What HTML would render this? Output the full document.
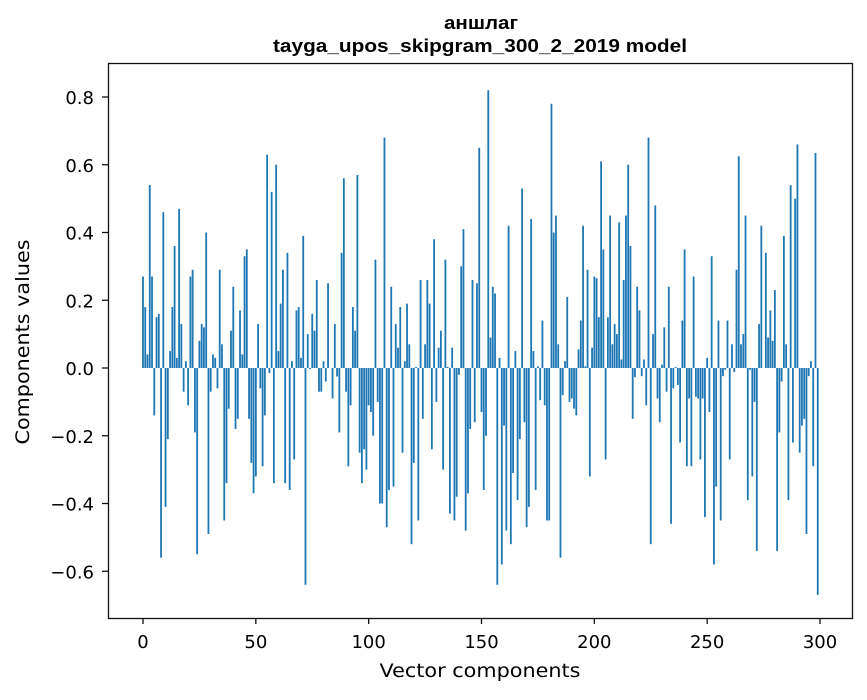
<!DOCTYPE html>
<html><head><meta charset="utf-8"><style>
body{margin:0;background:#fff;font-family:"DejaVu Sans","Liberation Sans",sans-serif;}
svg text{font-family:"DejaVu Sans","Liberation Sans",sans-serif;fill:#000;}
svg text.ttl{font-family:"Liberation Sans","DejaVu Sans",sans-serif;}
</style></head><body>
<svg id="chart" width="867" height="696" xmlns="http://www.w3.org/2000/svg">
<rect width="867" height="696" fill="#fff"/>
<text class="ttl" x="481" y="29" font-size="18" font-weight="bold" text-anchor="middle" textLength="74" lengthAdjust="spacingAndGlyphs">аншлаг</text>
<text class="ttl" x="480" y="52" font-size="18" font-weight="bold" text-anchor="middle" textLength="414" lengthAdjust="spacingAndGlyphs">tayga_upos_skipgram_300_2_2019 model</text>
<g id="bars"></g>
<g id="axes"></g>
<rect x="108.5" y="63.5" width="744" height="555" fill="none" stroke="#111" stroke-width="1.3"/>
<text x="480" y="677" font-size="19" text-anchor="middle" textLength="201" lengthAdjust="spacingAndGlyphs">Vector components</text>
<text x="0" y="0" font-size="19" text-anchor="middle" textLength="205" lengthAdjust="spacingAndGlyphs" transform="translate(29,342) rotate(-90)">Components values</text>
</svg>
<script>
const values = [
0.27,0.18,0.04,0.54,0.27,-0.14,0.15,0.16,-0.56,0.46,-0.41,-0.21,0.05,0.18,0.36,0.03,0.47,0.13,-0.07,0.02,
-0.11,0.27,0.29,-0.19,-0.55,0.08,0.13,0.12,0.40,-0.49,-0.07,0.04,0.03,-0.06,0.29,0.07,-0.45,-0.34,-0.12,0.11,
0.24,-0.18,-0.15,0.17,0.04,0.33,0.35,-0.15,-0.28,-0.37,-0.32,0.13,-0.06,-0.29,-0.14,0.63,-0.015,0.52,-0.34,0.60,
0.05,0.19,0.29,-0.34,0.34,-0.36,0.02,-0.27,0.17,0.18,0.03,0.39,-0.64,0.10,-0.003,0.16,0.11,0.26,-0.07,-0.07,
0.02,-0.04,0.25,0.0,-0.09,0.13,-0.025,-0.19,0.34,0.56,-0.07,-0.29,-0.11,0.18,0.11,0.57,-0.25,-0.34,-0.24,-0.30,
-0.11,-0.13,-0.20,0.32,-0.10,-0.40,-0.40,0.68,-0.47,-0.36,0.24,-0.35,0.13,0.06,0.18,-0.25,0.02,0.19,0.07,-0.52,
-0.28,0.003,-0.45,0.26,-0.15,0.07,0.26,0.19,-0.24,0.38,-0.10,0.06,0.11,-0.30,0.32,0.003,-0.43,0.06,-0.45,-0.38,
-0.02,0.30,0.41,-0.48,-0.37,-0.18,0.26,-0.16,0.25,0.65,-0.13,-0.36,-0.20,0.82,0.09,0.24,0.22,-0.64,0.03,-0.58,
-0.17,-0.48,0.42,-0.52,-0.31,0.05,-0.39,-0.21,0.53,-0.16,-0.47,-0.41,0.44,0.05,-0.36,0.005,-0.095,0.14,-0.11,-0.45,
-0.45,0.78,0.40,0.45,0.07,-0.56,-0.08,0.02,0.21,-0.10,-0.09,-0.12,-0.14,0.055,0.14,0.42,0.005,0.29,-0.32,0.06,
0.27,0.265,0.15,0.61,0.35,-0.27,0.15,0.45,0.07,0.13,0.10,0.43,0.025,0.26,0.45,0.60,0.36,-0.15,-0.027,0.24,
0.17,-0.024,0.025,-0.11,0.68,-0.52,0.10,0.48,-0.09,-0.16,0.01,0.12,-0.07,0.24,-0.46,-0.06,0.003,-0.05,-0.22,0.14,
0.35,-0.29,-0.09,-0.29,0.27,-0.085,-0.09,-0.27,-0.09,-0.44,0.03,-0.13,0.33,-0.58,-0.35,0.14,-0.45,-0.024,-0.005,0.14,
-0.27,0.07,-0.012,0.29,0.625,0.07,0.10,0.45,-0.39,-0.005,-0.32,-0.10,-0.54,0.13,0.42,0.0,0.34,0.09,0.17,0.08,
0.23,-0.54,-0.19,-0.04,0.39,0.07,-0.39,0.54,-0.22,0.50,0.66,-0.25,-0.17,-0.15,-0.49,-0.024,0.02,-0.29,0.635,-0.67
];
const xTicks = [0,50,100,150,200,250,300];
const yTicks = [-0.6,-0.4,-0.2,0.0,0.2,0.4,0.6,0.8];
const yTickLabels = ["−0.6","−0.4","−0.2","0.0","0.2","0.4","0.6","0.8"];

const NS = "http://www.w3.org/2000/svg";
const xScale = v => 143 + v * (820 - 143) / 300;
const yScale = v => 368 - v * (368 - 97) / 0.8;
const bw = 0.8 * (820 - 143) / 300;
const bars = document.getElementById('bars');
values.forEach((v, i) => {
  const r = document.createElementNS(NS, 'rect');
  const y0 = yScale(0), y1 = yScale(v);
  r.setAttribute('x', xScale(i) - bw / 2);
  r.setAttribute('y', Math.min(y0, y1));
  r.setAttribute('width', bw);
  r.setAttribute('height', Math.abs(y1 - y0));
  r.setAttribute('fill', '#1f77b4');
  
  
  bars.appendChild(r);
});
const axes = document.getElementById('axes');
xTicks.forEach(t => {
  const x = xScale(t);
  const l = document.createElementNS(NS, 'line');
  l.setAttribute('x1', x); l.setAttribute('x2', x);
  l.setAttribute('y1', 618); l.setAttribute('y2', 624);
  l.setAttribute('stroke', '#111'); l.setAttribute('stroke-width', '1.3');
  
  
  axes.appendChild(l);
  const tx = document.createElementNS(NS, 'text');
  tx.setAttribute('x', x); tx.setAttribute('y', 648);
  tx.setAttribute('font-size', '18'); tx.setAttribute('text-anchor', 'middle');
  tx.textContent = t;
  
  
  axes.appendChild(tx);
});
yTicks.forEach((t, i) => {
  const y = yScale(t);
  const l = document.createElementNS(NS, 'line');
  l.setAttribute('x1', 102); l.setAttribute('x2', 108);
  l.setAttribute('y1', y); l.setAttribute('y2', y);
  l.setAttribute('stroke', '#111'); l.setAttribute('stroke-width', '1.3');
  
  
  axes.appendChild(l);
  const tx = document.createElementNS(NS, 'text');
  tx.setAttribute('x', 94); tx.setAttribute('y', y + 7);
  tx.setAttribute('font-size', '18'); tx.setAttribute('text-anchor', 'end');
  tx.textContent = yTickLabels[i];
  
  
  axes.appendChild(tx);
});
</script>
</body></html>
